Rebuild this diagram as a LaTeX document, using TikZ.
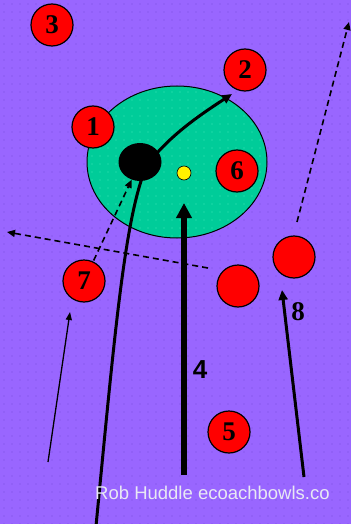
\documentclass[tikz,border=0pt]{standalone}
\usepackage{fontspec}
\setmainfont{Liberation Serif}
\newfontfamily\labelsans{Liberation Sans}
\usetikzlibrary{shapes.geometric, arrows.meta, positioning}
\definecolor{rink}{HTML}{9966FF}
\definecolor{rinkdot}{HTML}{7A4FE0}
\definecolor{house}{HTML}{00CC99}
\definecolor{housedot}{HTML}{40E8B8}
\definecolor{credit}{HTML}{E8E8F4}

\begin{document}
\begin{tikzpicture}[
    x=1pt, y=-1pt,
    bowl/.style={
      circle,
      draw=black,
      line width=1.2pt,
      fill=red,
      minimum size=42pt,
      inner sep=0pt,
      font=\fontsize{27}{27}\selectfont\bfseries
    },
    run/.style={-{Triangle[length=10pt,width=9pt]}, line width=3pt},
    thinrun/.style={-{Triangle[length=8pt,width=6pt]}, line width=1.3pt},
    dashrun/.style={-{Triangle[length=8pt,width=7pt]}, line width=1.6pt, dash pattern=on 6pt off 4pt}
  ]
    \useasboundingbox (0,0) rectangle (351,524);
    \clip (0,0) rectangle (351,524);
    % green and dots
    \fill[rink] (0,0) rectangle (351,524);
    \foreach \i in {0,...,43}
      \foreach \j in {0,...,65}
        \fill[rinkdot] (\i*8+4,\j*8+4) circle (0.7);
    \begin{scope}
      \clip (177,162) ellipse (90 and 76);
      \fill[house] (177,162) ellipse (90 and 76);
      \foreach \i in {11,...,33}
        \foreach \j in {10,...,30}
          \fill[housedot] (\i*8+4,\j*8+4) circle (0.7);
    \end{scope}
    \draw[line width=1pt] (177,162) ellipse (90 and 76);

    % free ends of the runs
    \coordinate (startA) at (96,526);
    \coordinate (bendA) at (147,165);
    \coordinate (tipA) at (232,94);
    \coordinate (startB) at (184,475);
    \coordinate (tipB) at (184,203);
    \coordinate (startC) at (304,477);
    \coordinate (tipC) at (282,290);
    \coordinate (startD) at (48,462);
    \coordinate (tipD) at (70,312);
    \coordinate (startE) at (208,268);
    \coordinate (tipE) at (7,232);
    \coordinate (startF) at (297,222);
    \coordinate (tipF) at (349,22);

    \draw[run] (startA) .. controls (115,330) and (125,215) .. (bendA)
      .. controls (170,135) and (200,115) .. (tipA);
    \draw[-{Triangle[length=15pt,width=15pt]}, line width=5.5pt] (startB) -- (tipB);
    \draw[run] (startC) -- (tipC);
    \draw[thinrun] (startD) -- (tipD);
    \draw[dashrun] (startE) -- (tipE);
    \draw[dashrun] (startF) -- (tipF);

    \node[ellipse, fill=black, minimum width=43pt, minimum height=38pt, inner sep=0pt] (jack) at (140,162) {};
    \node[circle, fill=yellow, draw=black, line width=0.6pt, minimum size=14pt, inner sep=0pt] (target) at (184,173) {};

    \node[bowl] (b3) at (52,25) {3};
    \node[bowl] (b2) at (245,70) {2};
    \node[bowl] (b1) at (93,127) {1};
    \node[bowl] (b6) at (237,171) {6};
    \node[bowl] (b7) at (84,281) {7};
    \node[bowl] (b8a) at (238,286) {};
    \node[bowl] (b8b) at (294,257) {};
    \node[bowl] (b5) at (229,432) {5};

    \draw[dashrun, shorten <=1pt] (b7) -- (jack);

    \node[font=\fontsize{27}{27}\selectfont\bfseries] (n8) at (298,312) {8};
    \node[font=\labelsans\fontsize{26}{26}\selectfont\bfseries] (n4) at (200,370) {4};
    \node[font=\labelsans\fontsize{18.5}{18.5}\selectfont, text=credit, anchor=base west, inner sep=0pt] (credit) at (95,499) {Rob Huddle ecoachbowls.co};
  \end{tikzpicture}
\end{document}
